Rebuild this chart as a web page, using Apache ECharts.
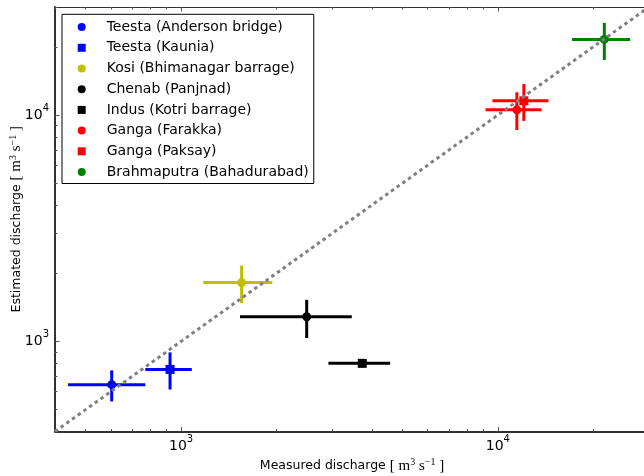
<!DOCTYPE html>
<html>
<head>
<meta charset="utf-8">
<script src="https://cdn.jsdelivr.net/npm/echarts@6/dist/echarts.min.js"></script>
<style>html,body{margin:0;padding:0;background:#fff;}#c{width:644px;height:476px;}</style>
</head>
<body>
<div id="c"></div>
<script>
const names = ['Teesta (Anderson bridge)','Teesta (Kaunia)','Kosi (Bhimanagar barrage)','Chenab (Panjnad)','Indus (Kotri barrage)','Ganga (Farakka)','Ganga (Paksay)','Brahmaputra (Bahadurabad)'];
const markers = ['circle','square','circle','circle','square','circle','square','circle'];
const colors = ['#0000ff','#0000ff','#bfbf00','#000000','#000000','#ff0000','#ff0000','#008000'];
const measured    = [604, 923, 1553, 2492, 3733, 11480, 12080, 21680];
const measuredLo  = [440, 771, 1175, 1535, 2919, 9140, 9610, 17150];
const measuredHi  = [771, 1081, 1941, 3459, 4571, 13750, 14450, 26170];
const estimated   = [644, 752, 1819, 1285, 800, 10540, 11560, 21580];
const estimatedLo = [543, 613, 1476, 1035, 780, 8590, 9420, 17490];
const estimatedHi = [745, 894, 2163, 1527, 820, 12600, 13700, 25530];
const majorTicks = [1000, 10000];
const minorTicks = [400,500,600,700,800,900,2000,3000,4000,5000,6000,7000,8000,9000,20000,30000];
const axisMin = 400, axisMax = 30000;
const oneToOne = [[400,400],[30000,30000]];

const squarePath = 'path://M0,0L1,0L1,1L0,1Z';
const tickRich = {
  b: {fontFamily: 'DejaVu Sans', fontSize: 14, color: '#000', lineHeight: 24},
  s: {fontFamily: 'DejaVu Sans', fontSize: 10, color: '#000', verticalAlign: 'top', lineHeight: 10}
};
function tickFmt(v) { return '{b|10}{s|' + Math.round(Math.log10(v)) + '}'; }
const nameRich = {
  a: {fontFamily: 'DejaVu Sans', fontSize: 12.5, color: '#000', lineHeight: 17},
  m: {fontFamily: 'Liberation Serif', fontSize: 15, color: '#000', lineHeight: 17},
  s: {fontFamily: 'Liberation Serif', fontSize: 10, color: '#000', verticalAlign: 'top', lineHeight: 10}
};

function makeAxis(pos, major, extra) {
  const base = {
    type: 'log', min: axisMin, max: axisMax, position: pos,
    splitLine: {show: false},
    axisLine: {show: major, onZero: false, lineStyle: {color: '#333', width: (pos === 'top') ? 1.2 : 2}},
    axisTick: {show: true, inside: true, length: major ? 4.5 : 2.5, customValues: major ? majorTicks : minorTicks, lineStyle: {color: '#555', width: 1}},
    axisLabel: {show: false},
    silent: true
  };
  return Object.assign(base, extra || {});
}

const xAxes = [
  makeAxis('bottom', true, {
    axisLabel: {show: true, customValues: majorTicks, formatter: tickFmt, rich: tickRich, margin: 3},
    name: '{a|Measured discharge }{m|[ m}{s|3}{m| s}{s|−1}{m| ]}',
    nameLocation: 'middle', nameGap: 26, nameMoveOverlap: false, nameTextStyle: {rich: nameRich}
  }),
  makeAxis('bottom', false),
  makeAxis('top', true),
  makeAxis('top', false)
];
const yAxes = [
  makeAxis('left', true, {
    axisLabel: {show: true, customValues: majorTicks, formatter: tickFmt, rich: tickRich, margin: 6},
    name: '{a|Estimated discharge }{m|[ m}{s|3}{m| s}{s|−1}{m| ]}',
    nameLocation: 'middle', nameGap: 30, nameMoveOverlap: false, nameTextStyle: {rich: nameRich}
  }),
  makeAxis('left', false)
];

const series = [];
names.forEach((n, i) => {
  series.push({
    type: 'custom', name: n, xAxisIndex: 0, yAxisIndex: 0, z: 2,
    encode: {x: 0, y: 1},
    data: [[measured[i], estimated[i], measuredLo[i], measuredHi[i], estimatedLo[i], estimatedHi[i]]],
    renderItem: function (params, api) {
      const x = api.value(0), y = api.value(1);
      const pL = api.coord([api.value(2), y]), pR = api.coord([api.value(3), y]);
      const pB = api.coord([x, api.value(4)]), pT = api.coord([x, api.value(5)]);
      const st = {stroke: colors[i], lineWidth: 3};
      return {type: 'group', children: [
        {type: 'line', shape: {x1: pL[0], y1: pL[1], x2: pR[0], y2: pR[1]}, style: st},
        {type: 'line', shape: {x1: pB[0], y1: pB[1], x2: pT[0], y2: pT[1]}, style: st}
      ]};
    }
  });
  series.push({
    type: 'scatter', name: n, xAxisIndex: 0, yAxisIndex: 0, z: 3,
    symbol: markers[i] === 'square' ? 'rect' : 'circle',
    symbolSize: 9,
    itemStyle: {color: colors[i], opacity: 1},
    data: [[measured[i], estimated[i]]]
  });
});
series.push({
  type: 'line', name: '1:1', xAxisIndex: 0, yAxisIndex: 0, z: 5, silent: true,
  symbol: 'none', data: oneToOne,
  lineStyle: {color: '#808080', width: 3, type: [3.5, 3.5], cap: 'butt'}
});

const chart = echarts.init(document.getElementById('c'), null, {renderer: 'canvas'});
chart.setOption({
  animation: false,
  backgroundColor: '#fff',
  grid: {left: 55, top: 7, width: 594, height: 424.5, containLabel: false, outerBoundsMode: 'none'},
  xAxis: xAxes,
  yAxis: yAxes,
  legend: {
    show: true, orient: 'vertical', left: 62, top: 14.3,
    selectedMode: false,
    itemWidth: 8, itemHeight: 8, itemGap: 6.7,
    padding: [5.8, 5, 4.5, 15.7],
    borderColor: '#000', borderWidth: 1, backgroundColor: '#fff',
    textStyle: {fontFamily: 'DejaVu Sans', fontSize: 14, color: '#000', lineHeight: 14, padding: [0, 0, 0, 16]},
    data: names.map((n, i) => ({name: n, icon: markers[i] === 'square' ? squarePath : 'circle', itemStyle: {color: colors[i]}}))
  },
  series: series
});
</script>
</body>
</html>
